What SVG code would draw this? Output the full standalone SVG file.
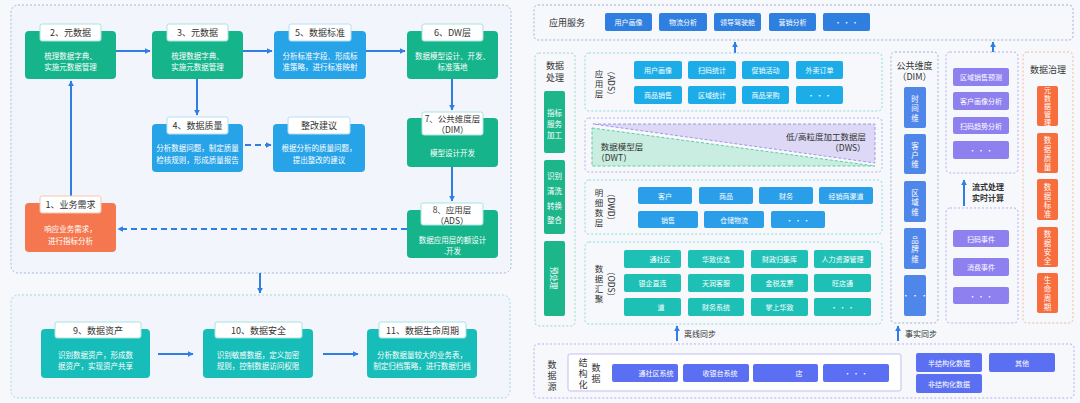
<svg xmlns="http://www.w3.org/2000/svg" width="1080" height="403" viewBox="0 0 1080 403">
<defs>
<marker id="ah" viewBox="0 0 10 10" refX="9" refY="5" markerWidth="6" markerHeight="6" markerUnits="userSpaceOnUse" orient="auto"><path d="M0,0 L10,5 L0,10 z" fill="#2f7ee6"/></marker>
<style>
text{font-family:"Noto Sans CJK SC","Noto Sans",sans-serif;}
.panel{fill:#f2f5fb;stroke:#a9b9d9;stroke-width:1;stroke-dasharray:2 2;}
.g{fill:#15b48b;}
.b{fill:#27a3e8;}
.o{fill:#f4774f;}
.tl{fill:#17bdb8;}
.tb{fill:#fff;stroke:#a9e3df;stroke-width:1;}
.tbo{fill:#fff;stroke:#f8c6ab;stroke-width:1;}
.tt{font-size:9px;fill:#333;text-anchor:middle;dominant-baseline:central;}
.t2{font-size:8.5px;fill:#333;text-anchor:middle;dominant-baseline:central;}
.bt{font-size:7.5px;fill:#fff;text-anchor:middle;dominant-baseline:central;}
.btn{font-size:7px;fill:#fff;text-anchor:middle;dominant-baseline:central;}
.vt{font-size:7.5px;fill:#fff;text-anchor:middle;dominant-baseline:central;}
.lb{font-size:9px;fill:#333;text-anchor:middle;dominant-baseline:central;}
.ls{font-size:8.5px;fill:#333;text-anchor:middle;dominant-baseline:central;}
.ln{stroke:#2f7ee6;stroke-width:2;fill:none;}
.dl{stroke:#2f7ee6;stroke-width:2;fill:none;stroke-dasharray:6 4;}
.pc{fill:#f6f8fc;stroke:#8ed9de;stroke-width:1;stroke-dasharray:2 2;}
.pp{fill:#f6f8fc;stroke:#b6aef0;stroke-width:1;stroke-dasharray:2 2;}
.pg{fill:#f6f8fc;stroke:#9fb0d4;stroke-width:1;stroke-dasharray:2 2;}
.po{fill:#f6f8fc;stroke:#f5b6a0;stroke-width:1;stroke-dasharray:2 2;}
.pgr{fill:#f6f8fc;stroke:#96dcc3;stroke-width:1;stroke-dasharray:2 2;}
.ads{fill:#1cade8;}
.app{fill:#2f7fe0;}
.dwd{fill:#2a9ee9;}
.ods{fill:#1ec0b6;}
.dim{fill:#4f86e9;}
.str{fill:#8f80f0;}
.gov{fill:#f76d3d;}
.src{fill:#5b6ff2;}
.grn{fill:#1db68b;}
</style>
</defs>
<rect x="0" y="0" width="1080" height="403" fill="#f6f8fc"/>

<!-- Left panels -->
<rect class="panel" x="11" y="5" width="500" height="268" rx="7"/>
<rect class="panel" x="11" y="295" width="499" height="103" rx="7" style="stroke:#9edbe0"/>

<g id="connectors-left">
<path class="ln" d="M116,51 H150" marker-end="url(#ah)"/>
<path class="ln" d="M243,51 H272" marker-end="url(#ah)"/>
<path class="ln" d="M366,51 H405" marker-end="url(#ah)"/>
<path class="ln" d="M452,79 V110" marker-end="url(#ah)"/>
<path class="ln" d="M452,167 V201" marker-end="url(#ah)"/>
<path class="ln" d="M197,79 V115" marker-end="url(#ah)"/>
<path class="dl" d="M245,145 H271" marker-end="url(#ah)"/>
<path class="dl" d="M407,229 H118" marker-end="url(#ah)"/>
<path class="ln" d="M71,196 V81" marker-end="url(#ah)"/>
<path class="ln" d="M260,273 V293" marker-end="url(#ah)"/>
<path class="ln" d="M158,354 H193" marker-end="url(#ah)"/>
<path class="ln" d="M323,354 H358" marker-end="url(#ah)"/>
</g>

<g id="n2"><rect class="g" x="25" y="31" width="91" height="48" rx="4"/><rect class="tb" x="40" y="24" width="61" height="17" rx="2"/><text class="tt" x="70.5" y="32.5">2、元数据</text><text class="bt" x="70.5" y="55">梳理数据字典、</text><text class="bt" x="70.5" y="66">实施元数据管理</text></g>
<g id="n3"><rect class="g" x="152" y="31" width="91" height="48" rx="4"/><rect class="tb" x="167" y="24" width="61" height="17" rx="2"/><text class="tt" x="197.5" y="32.5">3、元数据</text><text class="bt" x="197.5" y="55">梳理数据字典、</text><text class="bt" x="197.5" y="66">实施元数据管理</text></g>
<g id="n5"><rect class="b" x="274" y="31" width="92" height="48" rx="4"/><rect class="tb" x="289" y="24" width="62" height="17" rx="2" style="stroke:#b7def5"/><text class="tt" x="320" y="32.5">5、数据标准</text><text class="bt" x="320" y="55">分析标准字段、形成标</text><text class="bt" x="320" y="66">准策略，进行标准映射</text></g>
<g id="n6"><rect class="g" x="407" y="31" width="91" height="48" rx="4"/><rect class="tb" x="422" y="24" width="61" height="17" rx="2"/><text class="tt" x="452.5" y="32.5">6、DW层</text><text class="bt" x="452.5" y="55">数据模型设计、开发、</text><text class="bt" x="452.5" y="66">标准落地</text></g>
<g id="n4"><rect class="b" x="152" y="124" width="91" height="48" rx="4"/><rect class="tb" x="167" y="117" width="61" height="17" rx="2" style="stroke:#b7def5"/><text class="tt" x="197.5" y="125.5">4、数据质量</text><text class="bt" x="197.5" y="147">分析数据问题，制定质量</text><text class="bt" x="197.5" y="159">检核规则，形成质量报告</text></g>
<g id="nfix"><rect class="b" x="273" y="124" width="92" height="48" rx="4"/><rect class="tb" x="288" y="117" width="62" height="17" rx="2" style="stroke:#b7def5"/><text class="tt" x="319" y="125.5">整改建议</text><text class="bt" x="319" y="147">根据分析的质量问题，</text><text class="bt" x="319" y="159">提出整改的建议</text></g>
<g id="n7"><rect class="g" x="407" y="118" width="91" height="49" rx="4"/><rect class="tb" x="422" y="112" width="61" height="23" rx="2"/><text class="t2" x="452.5" y="117.5">7、公共维度层</text><text class="t2" x="452.5" y="129">（DIM）</text><text class="bt" x="452.5" y="152">模型设计开发</text></g>
<g id="n8"><rect class="g" x="407" y="210" width="91" height="48" rx="4"/><rect class="tb" x="421" y="203" width="62" height="22" rx="2"/><text class="t2" x="452" y="208.5">8、应用层</text><text class="t2" x="452" y="220">（ADS）</text><text class="bt" x="452.5" y="239">数据应用层的额设计</text><text class="bt" x="452.5" y="250">.开发</text></g>
<g id="n1"><rect class="o" x="25" y="203" width="91" height="49" rx="4"/><rect class="tbo" x="40" y="196" width="61" height="17" rx="2"/><text class="tt" x="70.5" y="204.5">1、业务需求</text><text class="bt" x="70.5" y="228">响应业务需求，</text><text class="bt" x="70.5" y="240">进行指标分析</text></g>
<g id="n9"><rect class="tl" x="41" y="329" width="109" height="49" rx="4"/><rect class="tb" x="55" y="322" width="86" height="16" rx="2"/><text class="tt" x="98" y="330">9、数据资产</text><text class="bt" x="95.5" y="354">识别数据资产，形成数</text><text class="bt" x="95.5" y="365">据资产，实现资产共享</text></g>
<g id="n10"><rect class="tl" x="203" y="329" width="110" height="49" rx="4"/><rect class="tb" x="215" y="322" width="87" height="16" rx="2"/><text class="tt" x="258.5" y="330">10、数据安全</text><text class="bt" x="258" y="354">识别敏感数据，定义加密</text><text class="bt" x="258" y="365">规则，控制数据访问权限</text></g>
<g id="n11"><rect class="tl" x="367" y="329" width="110" height="49" rx="4"/><rect class="tb" x="379" y="322" width="87" height="16" rx="2"/><text class="tt" x="422.5" y="330">11、数据生命周期</text><text class="bt" x="422" y="354">分析数据量较大的业务表，</text><text class="bt" x="422" y="365">制定归档策略，进行数据归档</text></g>

<!-- Right side -->
<g id="connectors-right">
<path class="ln" d="M735,53 V42" marker-end="url(#ah)"/>
<path class="ln" d="M993,53 V42" marker-end="url(#ah)"/>
<path class="ln" d="M964,206 V180" marker-end="url(#ah)"/>
<path class="ln" d="M677,341 V326" marker-end="url(#ah)"/>
<path class="ln" d="M898,341 V326" marker-end="url(#ah)"/>
<text x="684" y="333" style="font-size:8px;fill:#333;dominant-baseline:central">离线同步</text>
<text x="905" y="333" style="font-size:8px;fill:#333;dominant-baseline:central">事实同步</text>
<text x="972" y="186" style="font-size:8px;fill:#333;dominant-baseline:central;font-weight:bold">流式处理</text>
<text x="972" y="197" style="font-size:8px;fill:#333;dominant-baseline:central;font-weight:bold">实时计算</text>
</g>

<g id="app">
<rect class="pg" x="534" y="5" width="539" height="35" rx="4"/>
<text class="lb" x="567" y="22.5">应用服务</text>
<rect class="app" x="605" y="13" width="47" height="18" rx="2"/><text class="btn" x="628.5" y="22">用户画像</text>
<rect class="app" x="659" y="13" width="48" height="18" rx="2"/><text class="btn" x="683" y="22">物流分析</text>
<rect class="app" x="714" y="13" width="47" height="18" rx="2"/><text class="btn" x="737.5" y="22">领导驾驶舱</text>
<rect class="app" x="769" y="13" width="47" height="18" rx="2"/><text class="btn" x="792.5" y="22">营销分析</text>
<rect class="app" x="823" y="13" width="47" height="18" rx="2"/><text class="btn" x="846.5" y="22">· · ·</text>
</g>

<g id="proc">
<rect class="pgr" x="535" y="53" width="40" height="273" rx="4"/>
<text class="lb" x="555" y="65">数据</text><text class="lb" x="555" y="77">处理</text>
<rect class="grn" x="544" y="91" width="21" height="62" rx="2"/>
<text class="vt" x="554.5" y="112">指标</text><text class="vt" x="554.5" y="123">服务</text><text class="vt" x="554.5" y="134">加工</text>
<rect class="grn" x="544" y="160" width="21" height="74" rx="2"/>
<text class="vt" x="554.5" y="175">识别</text><text class="vt" x="554.5" y="190">清洗</text><text class="vt" x="554.5" y="205">转换</text><text class="vt" x="554.5" y="219">整合</text>
<rect class="grn" x="544" y="241" width="21" height="75" rx="2"/>
<text class="vt" transform="translate(554.5,278) rotate(90)" x="0" y="0">预处理</text>
</g>

<g id="ads">
<rect class="pc" x="585" y="53" width="297" height="58" rx="4"/>
<text class="ls" x="599" y="73">应</text><text class="ls" x="599" y="83">用</text><text class="ls" x="599" y="93">层</text>
<text class="ls" transform="translate(612,83) rotate(90)">（ADS）</text>
<rect class="ads" x="634" y="61" width="48" height="18" rx="2"/><text class="btn" x="658" y="70">用户画像</text>
<rect class="ads" x="688" y="61" width="48" height="18" rx="2"/><text class="btn" x="712" y="70">扫码统计</text>
<rect class="ads" x="742" y="61" width="47" height="18" rx="2"/><text class="btn" x="765.5" y="70">促销活动</text>
<rect class="ads" x="796" y="61" width="47" height="18" rx="2"/><text class="btn" x="819.5" y="70">外卖订单</text>
<rect class="ads" x="634" y="86" width="48" height="18" rx="2"/><text class="btn" x="658" y="95">商品销售</text>
<rect class="ads" x="688" y="86" width="48" height="18" rx="2"/><text class="btn" x="712" y="95">区域统计</text>
<rect class="ads" x="742" y="86" width="47" height="18" rx="2"/><text class="btn" x="765.5" y="95">商品采购</text>
<rect class="ads" x="796" y="86" width="47" height="18" rx="2"/><text class="btn" x="819.5" y="95">· · ·</text>
</g>

<g id="dws">
<rect class="pp" x="585" y="118" width="297" height="54" rx="4"/>
<polygon points="593,124 875,124 875,163" fill="#dcd8f6" stroke="#a596e8" stroke-width="1" stroke-dasharray="3 2"/>
<polygon points="592,128 875,166 592,166" fill="#c9ede1" stroke="#5ccf9f" stroke-width="1" stroke-dasharray="3 2"/>
<text class="ls" x="622" y="146">数据模型层</text>
<text class="ls" x="614" y="157">（DWT）</text>
<text class="ls" x="826" y="136">低/高粒度加工数据层</text>
<text class="ls" x="848" y="147">（DWS）</text>
</g>

<g id="dwd">
<rect class="pc" x="585" y="180" width="297" height="54" rx="4"/>
<text class="ls" x="599" y="192">明</text><text class="ls" x="599" y="202">细</text><text class="ls" x="599" y="212">数</text><text class="ls" x="599" y="222">层</text>
<text class="ls" transform="translate(612,207) rotate(90)">（DWD）</text>
<rect class="dwd" x="638" y="187" width="54" height="17" rx="2"/><text class="btn" x="665" y="195.5">客户</text>
<rect class="dwd" x="699" y="187" width="54" height="17" rx="2"/><text class="btn" x="726" y="195.5">商品</text>
<rect class="dwd" x="759" y="187" width="54" height="17" rx="2"/><text class="btn" x="786" y="195.5">财务</text>
<rect class="dwd" x="819" y="187" width="54" height="17" rx="2"/><text class="btn" x="846" y="195.5">经销商渠道</text>
<rect class="dwd" x="638" y="211" width="60" height="17" rx="2"/><text class="btn" x="668" y="219.5">销售</text>
<rect class="dwd" x="704" y="211" width="60" height="17" rx="2"/><text class="btn" x="734" y="219.5">仓储物流</text>
<rect class="dwd" x="771" y="211" width="54" height="17" rx="2"/><text class="btn" x="798" y="219.5">· · ·</text>
</g>

<g id="ods">
<rect class="pc" x="585" y="242" width="297" height="82" rx="4"/>
<text class="ls" x="599" y="268">数</text><text class="ls" x="599" y="278">据</text><text class="ls" x="599" y="288">汇</text><text class="ls" x="599" y="298">聚</text>
<text class="ls" transform="translate(612,284) rotate(90)">（ODS）</text>
<rect class="ods" x="624" y="250" width="57" height="18" rx="2"/><text class="btn" x="660" y="259">通社区</text>
<rect class="ods" x="688" y="250" width="56" height="18" rx="2"/><text class="btn" x="716" y="259">华致优选</text>
<rect class="ods" x="751" y="250" width="57" height="18" rx="2"/><text class="btn" x="779.5" y="259">财政归集库</text>
<rect class="ods" x="814" y="250" width="57" height="18" rx="2"/><text class="btn" x="842.5" y="259">人力资源管理</text>
<rect class="ods" x="624" y="274" width="57" height="18" rx="2"/><text class="btn" x="652.5" y="283">银企直连</text>
<rect class="ods" x="688" y="274" width="56" height="18" rx="2"/><text class="btn" x="716" y="283">天润客服</text>
<rect class="ods" x="751" y="274" width="57" height="18" rx="2"/><text class="btn" x="779.5" y="283">金税发票</text>
<rect class="ods" x="814" y="274" width="57" height="18" rx="2"/><text class="btn" x="842.5" y="283">旺店通</text>
<rect class="ods" x="624" y="298" width="57" height="18" rx="2"/><text class="btn" x="661" y="307">道</text>
<rect class="ods" x="688" y="298" width="56" height="18" rx="2"/><text class="btn" x="716" y="307">财务系统</text>
<rect class="ods" x="751" y="298" width="57" height="18" rx="2"/><text class="btn" x="779.5" y="307">掌上华致</text>
<rect class="ods" x="814" y="298" width="57" height="18" rx="2"/><text class="btn" x="842.5" y="307">· · ·</text>
</g>

<g id="dim">
<rect class="pg" x="891" y="52" width="47" height="271" rx="4"/>
<text class="lb" x="914.5" y="65">公共维度</text>
<text class="lb" x="914.5" y="76">（DIM）</text>
<rect class="dim" x="904" y="87" width="22" height="41" rx="2"/><text class="vt" x="915" y="98">时</text><text class="vt" x="915" y="107.5">间</text><text class="vt" x="915" y="117">维</text>
<rect class="dim" x="904" y="134" width="22" height="40" rx="2"/><text class="vt" x="915" y="145">客</text><text class="vt" x="915" y="154">户</text><text class="vt" x="915" y="163">维</text>
<rect class="dim" x="904" y="181" width="22" height="41" rx="2"/><text class="vt" x="915" y="192">区</text><text class="vt" x="915" y="201.5">域</text><text class="vt" x="915" y="211">维</text>
<rect class="dim" x="904" y="228" width="22" height="41" rx="2"/><text class="vt" x="915" y="239">品</text><text class="vt" x="915" y="248.5">牌</text><text class="vt" x="915" y="258">维</text>
<rect class="dim" x="904" y="275" width="22" height="41" rx="2"/><text class="vt" x="915" y="295.5">· · ·</text>
</g>

<g id="stream-top">
<rect class="pp" x="946" y="52" width="72" height="121" rx="4"/>
<rect class="str" x="953" y="68" width="56" height="18" rx="2"/><text class="btn" x="981" y="77">区域销售预测</text>
<rect class="str" x="953" y="92" width="56" height="18" rx="2"/><text class="btn" x="981" y="101">客户画像分析</text>
<rect class="str" x="953" y="117" width="56" height="17" rx="2"/><text class="btn" x="981" y="125.5">扫码趋势分析</text>
<rect class="str" x="953" y="141" width="56" height="18" rx="2"/><text class="btn" x="981" y="150">· · ·</text>
</g>

<g id="stream-bottom">
<rect class="pp" x="946" y="208" width="72" height="115" rx="4"/>
<rect class="str" x="953" y="230" width="56" height="17" rx="2"/><text class="btn" x="981" y="238.5">扫码事件</text>
<rect class="str" x="953" y="258" width="56" height="18" rx="2"/><text class="btn" x="981" y="267">消费事件</text>
<rect class="str" x="953" y="287" width="56" height="17" rx="2"/><text class="btn" x="981" y="295.5">· · ·</text>
</g>

<g id="gov">
<rect class="po" x="1023" y="52" width="50" height="271" rx="4"/>
<text class="lb" x="1048" y="69">数据治理</text>
<rect class="gov" x="1037" y="86" width="21" height="40" rx="2"/><text class="vt" x="1047.5" y="90" style="font-size:7px">元</text><text class="vt" x="1047.5" y="98" style="font-size:7px">数</text><text class="vt" x="1047.5" y="106" style="font-size:7px">据</text><text class="vt" x="1047.5" y="114" style="font-size:7px">管</text><text class="vt" x="1047.5" y="122" style="font-size:7px">理</text>
<rect class="gov" x="1037" y="133" width="21" height="40" rx="2"/><text class="vt" x="1047.5" y="139.5">数</text><text class="vt" x="1047.5" y="148.5">据</text><text class="vt" x="1047.5" y="157.5">质</text><text class="vt" x="1047.5" y="166.5">量</text>
<rect class="gov" x="1037" y="179" width="21" height="41" rx="2"/><text class="vt" x="1047.5" y="186">数</text><text class="vt" x="1047.5" y="195">据</text><text class="vt" x="1047.5" y="204">标</text><text class="vt" x="1047.5" y="213">准</text>
<rect class="gov" x="1037" y="227" width="21" height="40" rx="2"/><text class="vt" x="1047.5" y="233.5">数</text><text class="vt" x="1047.5" y="242.5">据</text><text class="vt" x="1047.5" y="251.5">安</text><text class="vt" x="1047.5" y="260.5">全</text>
<rect class="gov" x="1037" y="273" width="21" height="40" rx="2"/><text class="vt" x="1047.5" y="279.5">生</text><text class="vt" x="1047.5" y="288.5">命</text><text class="vt" x="1047.5" y="297.5">周</text><text class="vt" x="1047.5" y="306.5">期</text>
</g>

<g id="source">
<rect class="pp" x="534" y="344" width="540" height="54" rx="4"/>
<text class="lb" x="552" y="364">数</text><text class="lb" x="552" y="375">据</text><text class="lb" x="552" y="386">源</text>
<rect x="568" y="354" width="333" height="37" rx="2" fill="#fff" stroke="#c3bdf0" stroke-width="1"/>
<text class="lb" x="583" y="362">结</text><text class="lb" x="583" y="373">构</text><text class="lb" x="583" y="384">化</text>
<text class="lb" x="596" y="367">数</text><text class="lb" x="596" y="378">据</text>
<rect class="src" x="612" y="364" width="66" height="18" rx="2"/><text class="btn" x="656" y="373">通社区系统</text>
<rect class="src" x="683" y="364" width="66" height="18" rx="2"/><text class="btn" x="720" y="373">收银台系统</text>
<rect class="src" x="753" y="364" width="65" height="18" rx="2"/><text class="btn" x="799" y="373">店</text>
<rect class="src" x="823" y="364" width="66" height="18" rx="2"/><text class="btn" x="856" y="373">· · ·</text>
<rect class="src" x="916" y="353" width="66" height="19" rx="2"/><text class="btn" x="949" y="362.5">半结构化数据</text>
<rect class="src" x="989" y="353" width="66" height="19" rx="2"/><text class="btn" x="1022" y="362.5">其他</text>
<rect class="src" x="916" y="374" width="66" height="19" rx="2"/><text class="btn" x="949" y="383.5">非结构化数据</text>
</g>
</svg>
